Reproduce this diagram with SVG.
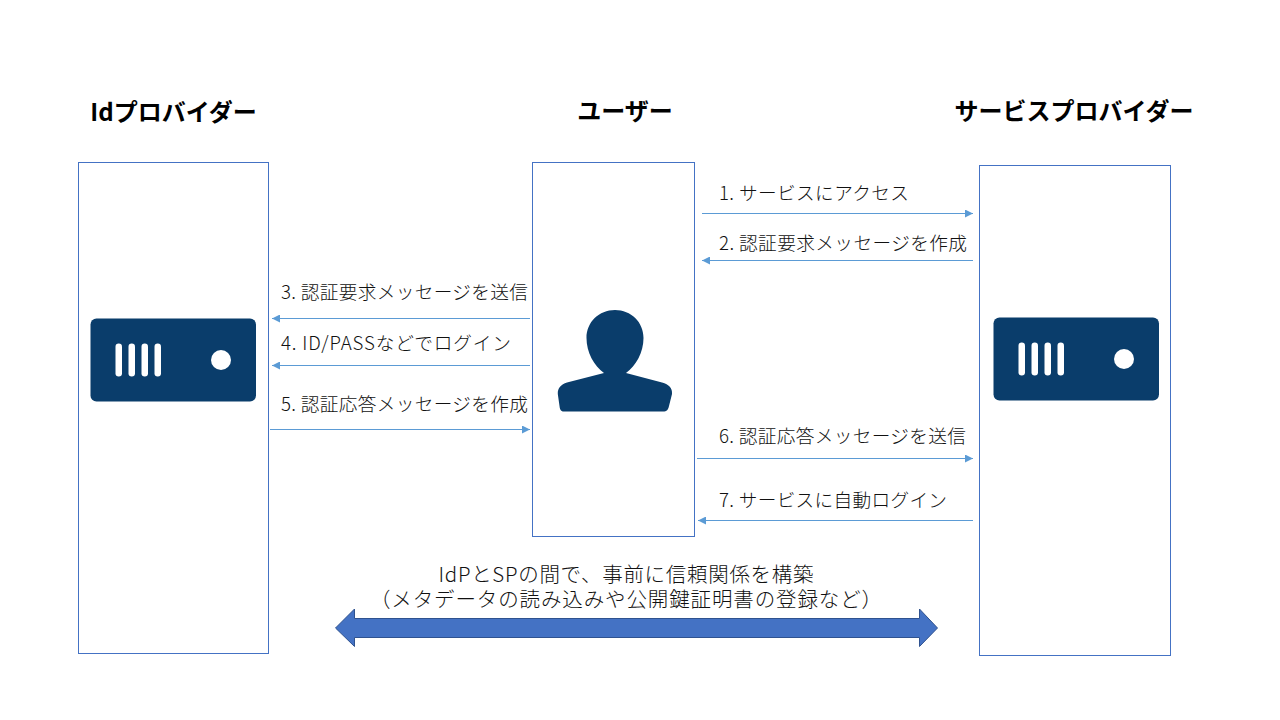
<svg xmlns="http://www.w3.org/2000/svg" width="1280" height="720" viewBox="0 0 1280 720">
<style>
text{font-family:"Noto Sans CJK JP","Liberation Sans",sans-serif;fill:#222}
.t{font-size:24px;font-weight:700;fill:#000;text-anchor:middle}
.l{font-size:18.67px;font-weight:300;fill:#111}
.b{font-size:20.5px;font-weight:300;fill:#111;text-anchor:middle}
.box{fill:#fff;stroke:#4472C4;stroke-width:1}
.ic{fill:#0A3D6B}
.w{fill:#fff}
.c{stroke:#5B9BD5;stroke-width:1;fill:none;marker-end:url(#a)}
</style>
<defs>
<marker id="a" markerUnits="userSpaceOnUse" markerWidth="9" markerHeight="8" refX="8" refY="4" orient="auto"><path d="M0 0L8 4L0 8Z" fill="#5B9BD5"/></marker>
<g id="srv">
<rect class="ic" x="0" y="0" width="165.500" height="83" rx="6"/>
<rect class="w" x="25" y="25" width="6.500" height="33" rx="3.200"/>
<rect class="w" x="38" y="25" width="6.500" height="33" rx="3.200"/>
<rect class="w" x="51" y="25" width="6.500" height="33" rx="3.200"/>
<rect class="w" x="64" y="25" width="6.500" height="33" rx="3.200"/>
<circle class="w" cx="130.500" cy="41.500" r="10"/>
</g>
</defs>
<rect width="1280" height="720" fill="#fff"/>
<g id="idp">
<rect class="box" x="78.500" y="162.500" width="190" height="491"/>
<use href="#srv" x="90.500" y="318.500"/>
<text class="t" x="173.500" y="121">Idプロバイダー</text>
</g>
<g id="user">
<rect class="box" x="532.500" y="162.500" width="162" height="374"/>
<path class="ic" d="M615 310C631 310 643.500 322 643.500 338C643.500 352 636 366 626 373L662 382.500C669 384.500 672.500 388 672 394L669 406C668 410 667 411.500 663 411.500L564 411.500C561 411.500 560 410 559.500 406L557.800 394C557.500 388 561 384.500 567 382.500L604 373C594 366 586.500 352 586.500 338C586.500 322 599 310 615 310Z"/>
<text class="t" x="625" y="120">ユーザー</text>
</g>
<g id="sp">
<rect class="box" x="979.500" y="165.500" width="191" height="490"/>
<use href="#srv" x="993.500" y="317.500"/>
<text class="t" x="1074" y="120">サービスプロバイダー</text>
</g>
<g id="connectors">
<path class="c" d="M702 213.500H973"/>
<path class="c" d="M973 260.500H702"/>
<path class="c" d="M530 318.500H272"/>
<path class="c" d="M530 365.500H272"/>
<path class="c" d="M270 429.500H530"/>
<path class="c" d="M697 458.500H973"/>
<path class="c" d="M973 520.500H698"/>
</g>
<g id="labels">
<text class="l" x="719" y="200" textLength="190">1. サービスにアクセス</text>
<text class="l" x="719" y="249.500" textLength="248">2. 認証要求メッセージを作成</text>
<text class="l" x="281" y="298.500" textLength="247">3. 認証要求メッセージを送信</text>
<text class="l" x="281" y="350" textLength="230">4. ID/PASSなどでログイン</text>
<text class="l" x="281" y="410.500" textLength="247">5. 認証応答メッセージを作成</text>
<text class="l" x="719" y="442.500" textLength="247">6. 認証応答メッセージを送信</text>
<text class="l" x="719" y="507" textLength="228">7. サービスに自動ログイン</text>
</g>
<g id="trust">
<path d="M335.500 628L354.500 609V618.500H919.500V609L937.500 628L919.500 646.500V637.500H354.500V646.500Z" fill="#4472C4" stroke="#2F528F" stroke-width="1"/>
<text class="b"><tspan x="626" y="582" textLength="375">IdPとSPの間で、事前に信頼関係を構築</tspan><tspan x="626" y="607" textLength="512">（メタデータの読み込みや公開鍵証明書の登録など）</tspan></text>
</g>
</svg>
